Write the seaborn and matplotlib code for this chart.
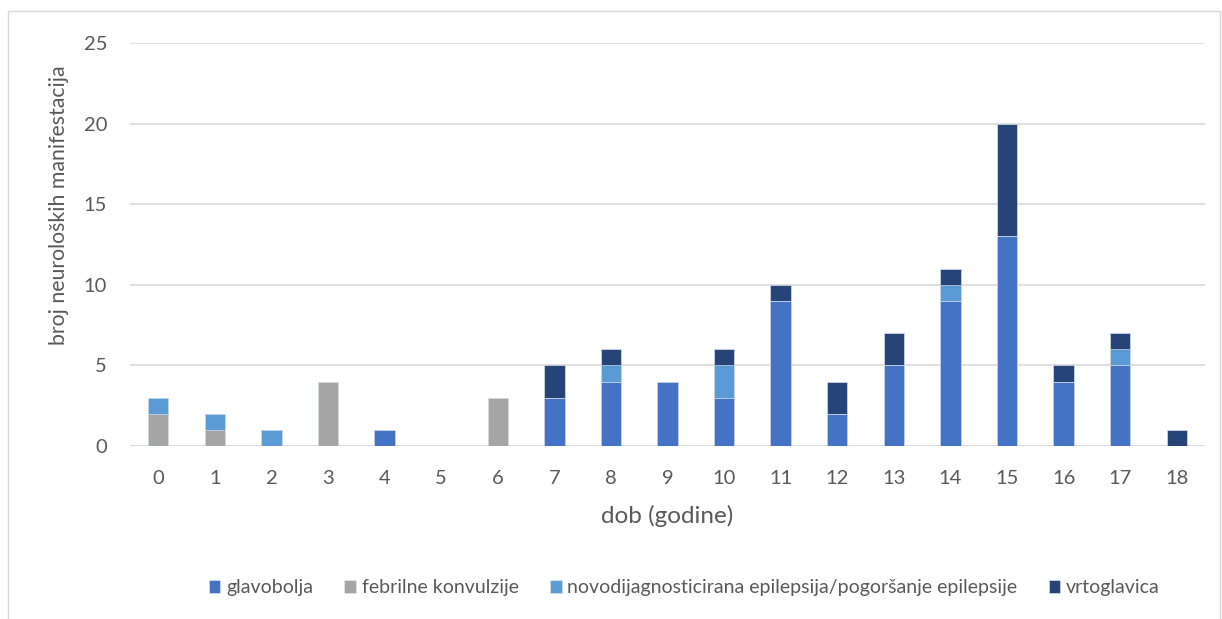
import numpy as np
import pandas as pd
import matplotlib
matplotlib.use("Agg")
import matplotlib.pyplot as plt
import seaborn as sns
from matplotlib.patches import Rectangle

# ages 0-18
ages = list(range(19))
glavobolja = [0, 0, 0, 0, 1, 0, 0, 3, 4, 4, 3, 9, 2, 5, 9, 13, 4, 5, 0]
febrilne = [2, 1, 0, 4, 0, 0, 3, 0, 0, 0, 0, 0, 0, 0, 0, 0, 0, 0, 0]
epilepsija = [1, 1, 1, 0, 0, 0, 0, 0, 1, 0, 2, 0, 0, 0, 1, 0, 0, 1, 0]
vrtoglavica = [0, 0, 0, 0, 0, 0, 0, 2, 1, 0, 1, 1, 2, 2, 1, 7, 1, 1, 1]

series = ["glavobolja", "febrilne konvulzije",
          "novodijagnosticirana epilepsija/pogoršanje epilepsije", "vrtoglavica"]
colors = ["#4472C4", "#A5A5A5", "#5B9BD5", "#264478"]

df = pd.DataFrame({"dob": ages, series[0]: glavobolja, series[1]: febrilne,
                   series[2]: epilepsija, series[3]: vrtoglavica})

sns.set_style("white")
plt.rcParams["font.family"] = ["Lato", "DejaVu Sans"]
txt = "#595959"

fig = plt.figure(figsize=(12.22, 6.19), dpi=100)
ax = fig.add_axes([130 / 1222, 1 - 446 / 619, (1205 - 130) / 1222, (446 - 43) / 619])

# stacked bars drawn as cumulative layers, top series first
cum = df[series].cumsum(axis=1)
for name, col in reversed(list(zip(series, colors))):
    sns.barplot(x=df["dob"], y=cum[name], color=col, width=0.36, ax=ax,
                label=name, saturation=1, zorder=3, legend=False,
                edgecolor="#E8EEF8", linewidth=0.4)

ax.set_ylim(0, 25)
ax.set_yticks([0, 5, 10, 15, 20, 25])
ax.yaxis.grid(True, color="#D9D9D9", linewidth=1.2, zorder=0)
ax.set_axisbelow(True)
for s in ax.spines.values():
    s.set_visible(False)
ax.axhline(0, color="#D9D9D9", linewidth=1.2, zorder=1)
ax.tick_params(axis="both", length=0, labelsize=14.5, labelcolor=txt)
ax.tick_params(axis="x", pad=17)
ax.tick_params(axis="y", pad=16.5)
ax.set_xlabel("dob (godine)", fontsize=17.5, color=txt, labelpad=13)
ax.set_ylabel("broj neuroloških manifestacija", fontsize=15.3, color=txt)
ax.yaxis.set_label_coords(-0.057, 0.598)

handles, labels = ax.get_legend_handles_labels()
if ax.get_legend() is not None:
    ax.get_legend().remove()
order = [labels.index(s) for s in series]
fig.legend([handles[i] for i in order], [labels[i] for i in order],
           loc="center", bbox_to_anchor=(0.56, 1 - 588 / 619), ncol=4,
           frameon=False, fontsize=14, labelcolor=txt, handlelength=0.6,
           handleheight=0.6, handletextpad=0.3, columnspacing=1.6)

fig.patches.append(Rectangle((8 / 1222, -0.05), 1212 / 1222, 1.05 - 11 / 619,
                             transform=fig.transFigure, fill=False,
                             edgecolor="#D9D9D9", linewidth=1))

fig.savefig("out.png", dpi=100)
